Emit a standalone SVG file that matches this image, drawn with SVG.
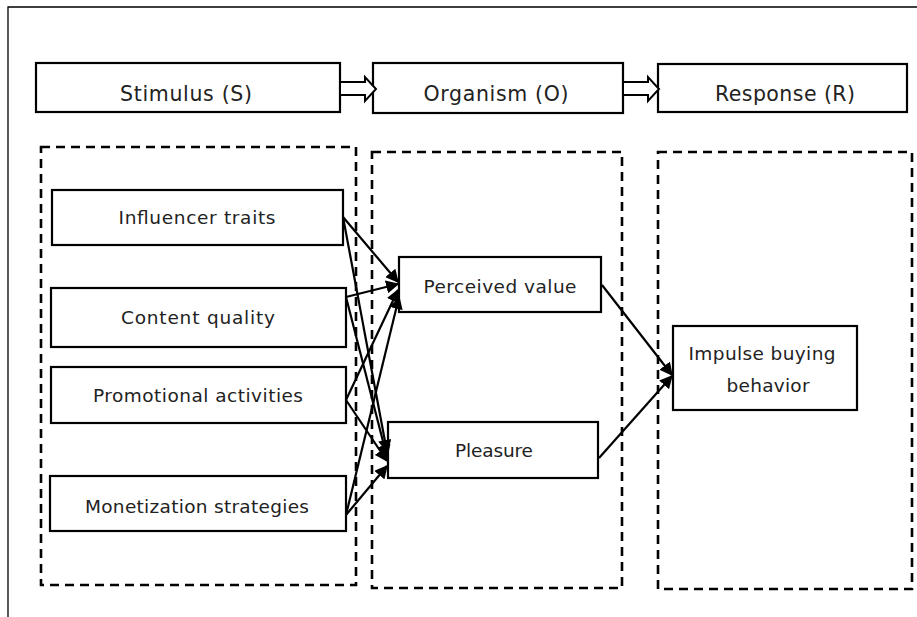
<svg xmlns="http://www.w3.org/2000/svg" width="917" height="617" viewBox="0 0 917 617">
<defs>
<style>
.box{fill:#fff;stroke:#000;stroke-width:2.2}
.dash{fill:none;stroke:#000;stroke-width:2.6;stroke-dasharray:9 6}
.frame{fill:none;stroke:#000;stroke-width:1.3}
.hdr{font-family:"DejaVu Sans","Open Sans",sans-serif;font-size:20.5px;fill:#222;text-anchor:middle}
.lbl{font-family:"DejaVu Sans","Open Sans",sans-serif;font-size:18.5px;fill:#222;text-anchor:middle}
.conn{stroke:#000;stroke-width:2.2;fill:none}
.big{fill:#fff;stroke:#000;stroke-width:2;stroke-linejoin:miter}
</style>
<marker id="ah" viewBox="0 0 10 10" refX="9" refY="5" markerWidth="6" markerHeight="6" orient="auto" markerUnits="strokeWidth">
<path d="M0,0 L10,5 L0,10 Z" fill="#000"/>
</marker>
</defs>
<rect width="917" height="617" fill="#fff"/>
<path class="frame" d="M8,617 L8,7 L917,7"/>

<g id="dashed-groups">
<rect class="dash" x="41" y="147" width="315" height="438"/>
<rect class="dash" x="372" y="152" width="250" height="436"/>
<rect class="dash" x="658" y="152" width="254" height="437"/>
</g>

<g id="stimulus-header">
<rect class="box" x="36" y="63" width="304" height="49"/>
<text class="hdr" x="186" y="101" textLength="132" lengthAdjust="spacing">Stimulus (S)</text>
</g>
<g id="organism-header">
<rect class="box" x="373" y="63" width="250" height="50"/>
<text class="hdr" x="496" y="101" textLength="145" lengthAdjust="spacing">Organism (O)</text>
</g>
<g id="response-header">
<rect class="box" x="658" y="64" width="249" height="48"/>
<text class="hdr" x="785" y="101" textLength="140" lengthAdjust="spacing">Response (R)</text>
</g>

<g id="header-arrows">
<path class="big" d="M340,82 L365,82 L365,77 L376,89 L365,101 L365,95 L340,95 Z"/>
<path class="big" d="M623,82 L648,82 L648,77 L659,89 L648,101 L648,95 L623,95 Z"/>
</g>

<g id="influencer-traits">
<rect class="box" x="52" y="190" width="291" height="55"/>
<text class="lbl" x="197" y="224" textLength="157" lengthAdjust="spacing">Influencer traits</text>
</g>
<g id="content-quality">
<rect class="box" x="51" y="288" width="295" height="59"/>
<text class="lbl" x="198" y="324" textLength="154" lengthAdjust="spacing">Content quality</text>
</g>
<g id="promotional-activities">
<rect class="box" x="51" y="367" width="295" height="56"/>
<text class="lbl" x="198" y="402" textLength="210" lengthAdjust="spacing">Promotional activities</text>
</g>
<g id="monetization-strategies">
<rect class="box" x="50" y="476" width="296" height="55"/>
<text class="lbl" x="197" y="513" textLength="224" lengthAdjust="spacing">Monetization strategies</text>
</g>

<g id="perceived-value">
<rect class="box" x="399" y="257" width="202" height="55"/>
<text class="lbl" x="500" y="293" textLength="153" lengthAdjust="spacing">Perceived value</text>
</g>
<g id="pleasure">
<rect class="box" x="388" y="422" width="210" height="56"/>
<text class="lbl" x="494" y="457" textLength="78" lengthAdjust="spacing">Pleasure</text>
</g>

<g id="impulse-buying-behavior">
<rect class="box" x="673" y="326" width="184" height="84"/>
<text class="lbl" x="762" y="360" textLength="147" lengthAdjust="spacing">Impulse buying</text>
<text class="lbl" x="768" y="392" textLength="83" lengthAdjust="spacing">behavior</text>
</g>

<g id="connectors">
<line class="conn" marker-end="url(#ah)" x1="343" y1="217" x2="398" y2="282"/>
<line class="conn" marker-end="url(#ah)" x1="346" y1="297" x2="398" y2="284"/>
<line class="conn" marker-end="url(#ah)" x1="346" y1="400" x2="398" y2="290"/>
<line class="conn" marker-end="url(#ah)" x1="346" y1="515" x2="399" y2="297"/>
<line class="conn" marker-end="url(#ah)" x1="343" y1="217" x2="387" y2="452"/>
<line class="conn" marker-end="url(#ah)" x1="346" y1="297" x2="387" y2="457"/>
<line class="conn" marker-end="url(#ah)" x1="346" y1="400" x2="387" y2="461"/>
<line class="conn" marker-end="url(#ah)" x1="346" y1="515" x2="387" y2="466"/>
<line class="conn" marker-end="url(#ah)" x1="602" y1="285" x2="672" y2="375"/>
<line class="conn" marker-end="url(#ah)" x1="599" y1="458" x2="672" y2="376"/>
</g>
</svg>
